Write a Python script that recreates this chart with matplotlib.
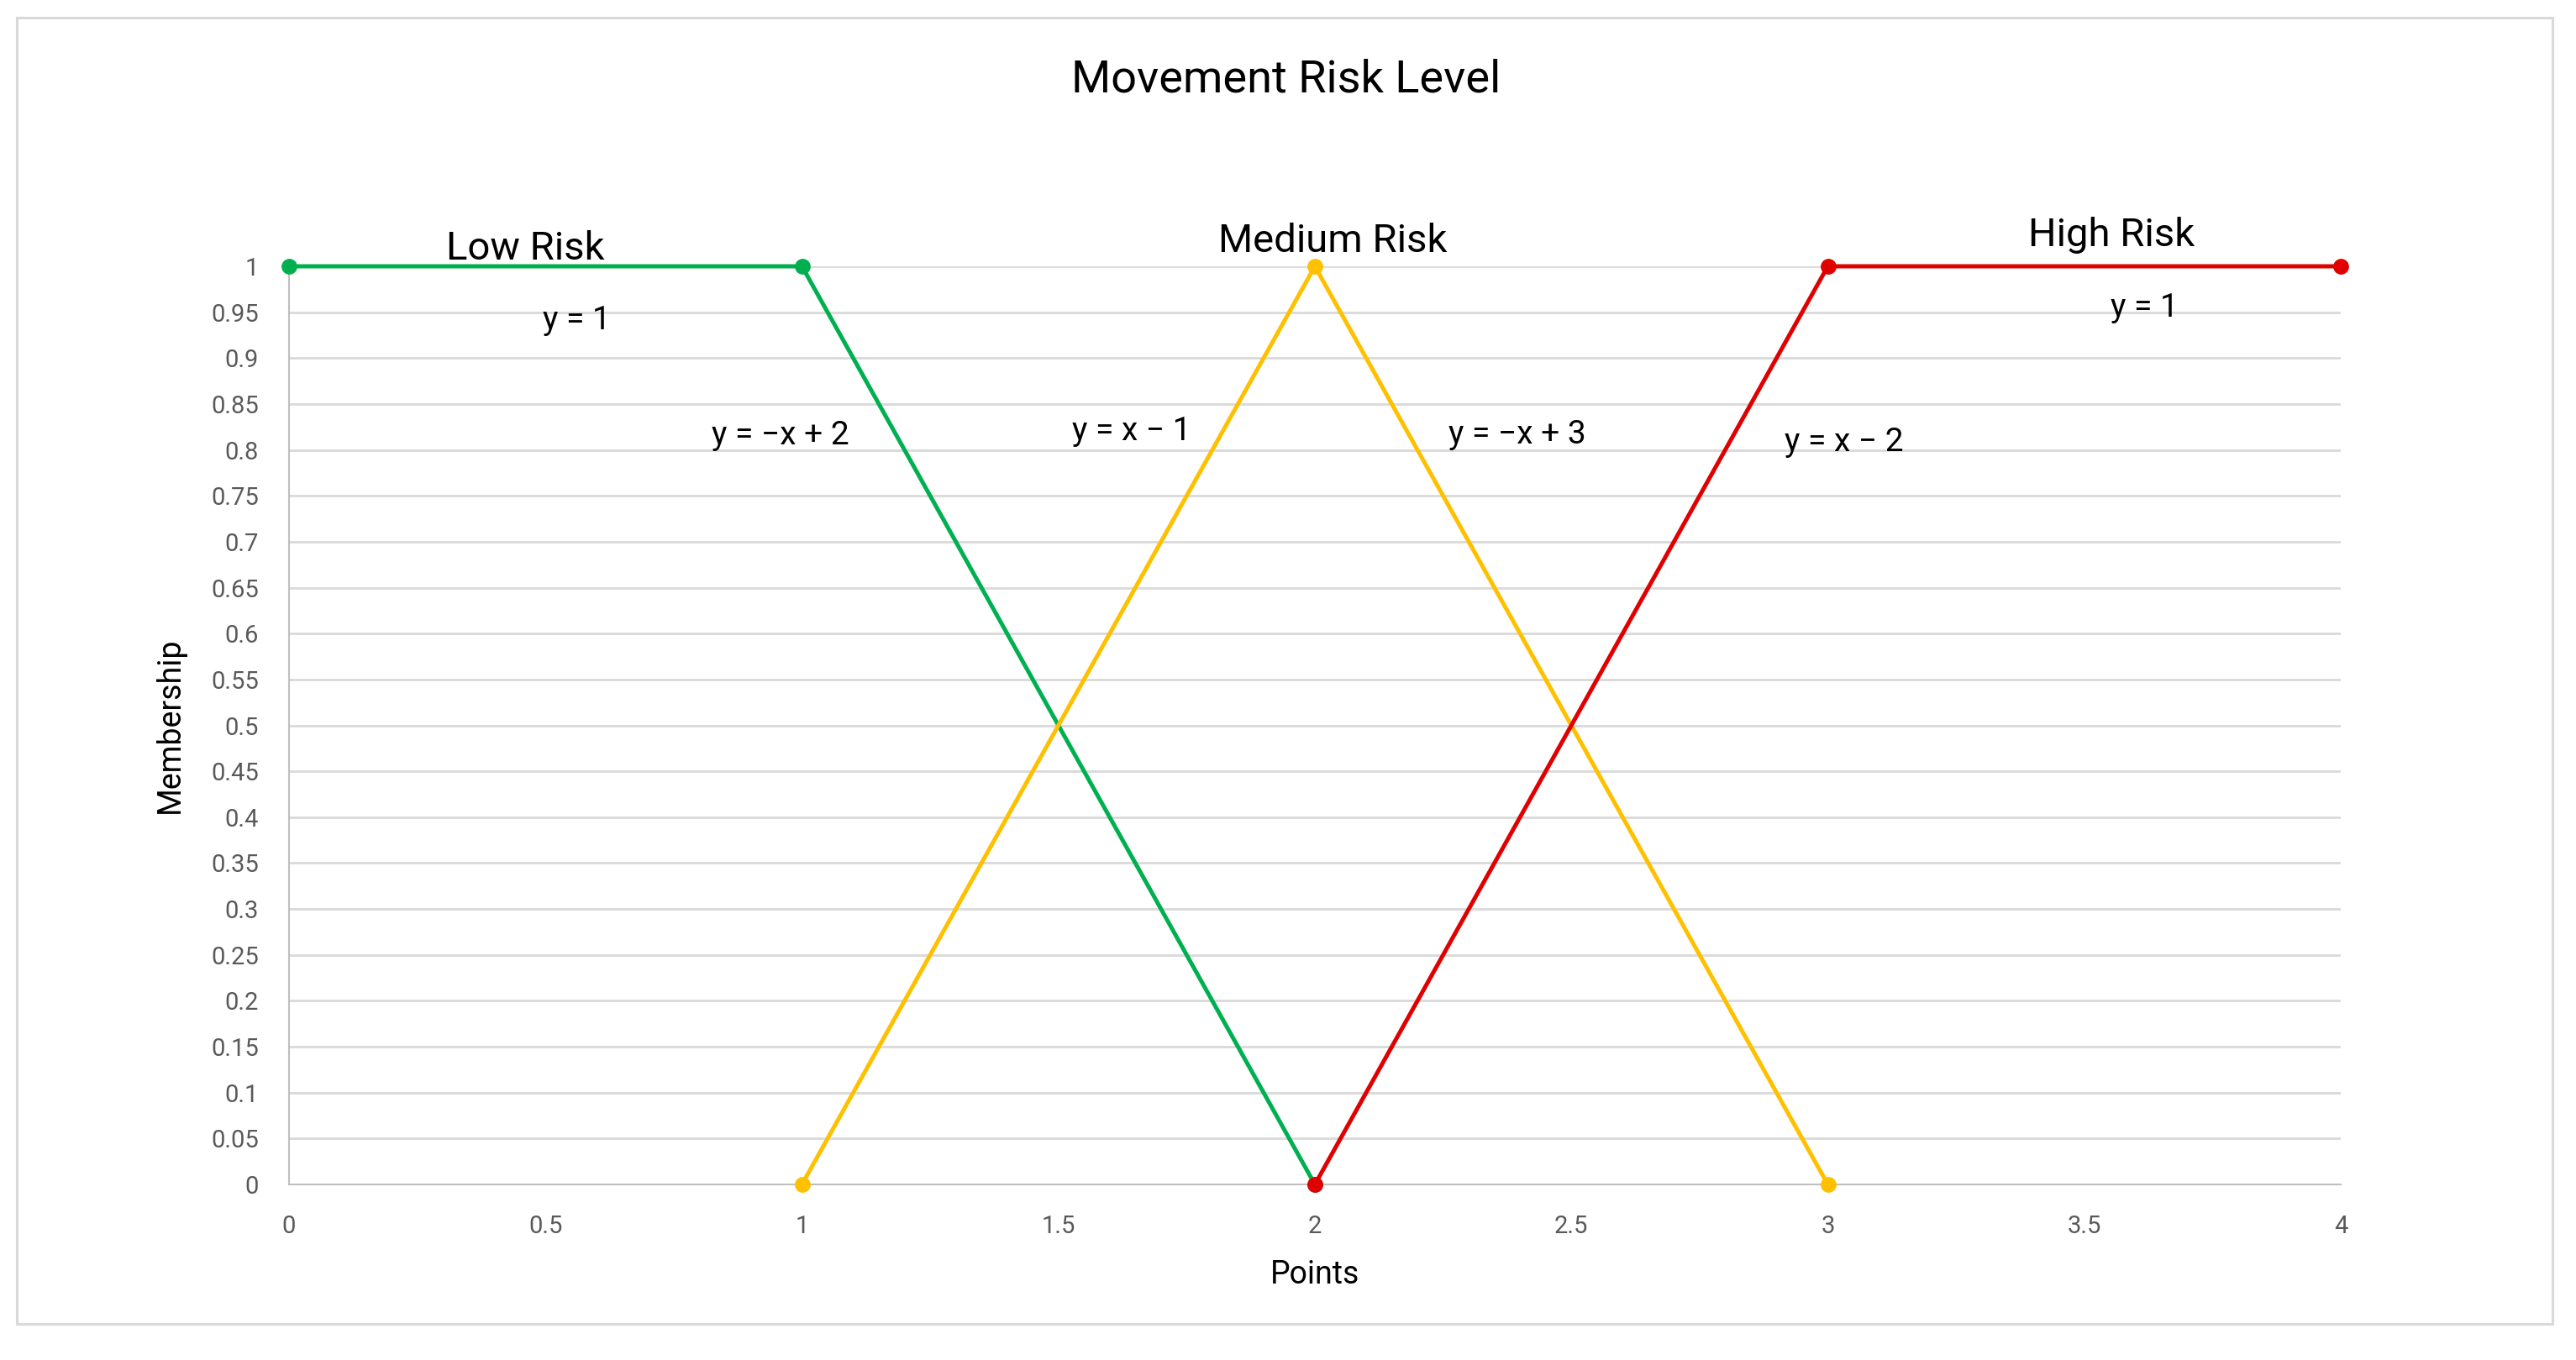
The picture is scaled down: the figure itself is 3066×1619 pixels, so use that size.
"""
Movement Risk Level: fuzzy membership functions (low / medium / high).
Writes: out.png
"""
import matplotlib
matplotlib.use("Agg")
import matplotlib.pyplot as plt
from matplotlib.patches import Rectangle

plt.rcParams["font.family"] = ["Roboto", "DejaVu Sans"]

# Membership function vertices
low_x = [0, 1, 2]
low_y = [1, 1, 0]
med_x = [1, 2, 3]
med_y = [0, 1, 0]
high_x = [2, 3, 4]
high_y = [0, 1, 1]

x_ticks = [0, 0.5, 1, 1.5, 2, 2.5, 3, 3.5, 4]
x_tick_labels = ["0", "0.5", "1", "1.5", "2", "2.5", "3", "3.5", "4"]
y_ticks = [i * 0.05 for i in range(21)]
y_tick_labels = ["0", "0.05", "0.1", "0.15", "0.2", "0.25", "0.3", "0.35", "0.4",
                 "0.45", "0.5", "0.55", "0.6", "0.65", "0.7", "0.75", "0.8",
                 "0.85", "0.9", "0.95", "1"]

# Set labels and equation annotations (text, x, baseline y)
set_labels = [("Low Risk", 0.46, 1.007), ("Medium Risk", 2.035, 1.016),
              ("High Risk", 3.553, 1.022)]
eq_labels = [("y = 1", 0.56, 0.931), ("y = \u2212x + 2", 0.958, 0.806),
             ("y = x \u2212 1", 1.643, 0.811), ("y = \u2212x + 3", 2.395, 0.807),
             ("y = x \u2212 2", 3.032, 0.799), ("y = 1", 3.617, 0.945)]

GREEN = "#00b050"
YELLOW = "#ffc000"
RED = "#e00000"
GRID = "#d9d9d9"
TICK = "#595959"

W, H = 3066, 1619
fig = plt.figure(figsize=(W / 100, H / 100), dpi=100)
ax = fig.add_axes([344 / W, 1 - 1410 / H, (2786 - 344) / W, (1410 - 317) / H])

for xs, ys, c in [(low_x, low_y, GREEN), (med_x, med_y, YELLOW), (high_x, high_y, RED)]:
    ax.plot(xs, ys, "-o", color=c, lw=3.6, markersize=12.5, clip_on=False, zorder=3)

ax.set_xlim(0, 4)
ax.set_ylim(0, 1)
ax.set_xticks(x_ticks)
ax.set_xticklabels(x_tick_labels)
ax.set_yticks(y_ticks)
ax.set_yticklabels(y_tick_labels)
ax.tick_params(length=0, labelsize=21, colors=TICK, pad=26)
ax.grid(axis="y", color=GRID, lw=2)
ax.set_axisbelow(True)
for s in ["top", "right"]:
    ax.spines[s].set_visible(False)
for s in ["left", "bottom"]:
    ax.spines[s].set_color("#bfbfbf")
    ax.spines[s].set_linewidth(1.5)

for t, x, y in set_labels:
    ax.text(x, y, t, fontsize=34, ha="center", va="baseline", color="black")
for t, x, y in eq_labels:
    ax.text(x, y, t, fontsize=28, ha="center", va="baseline", color="black")

ax.set_xlabel("Points", fontsize=27, color="black", labelpad=18)
ax.set_ylabel("Membership", fontsize=27, color="black", labelpad=22)
fig.text(1531 / W, 1 - 110 / H, "Movement Risk Level", fontsize=39,
         ha="center", va="baseline")

fig.patches.append(Rectangle((20 / W, 1 - 1576 / H), (3038 - 20) / W, (1576 - 21) / H,
                             transform=fig.transFigure, fill=False,
                             edgecolor=GRID, lw=2.2))

fig.savefig("out.png", dpi=100)
plt.close()
